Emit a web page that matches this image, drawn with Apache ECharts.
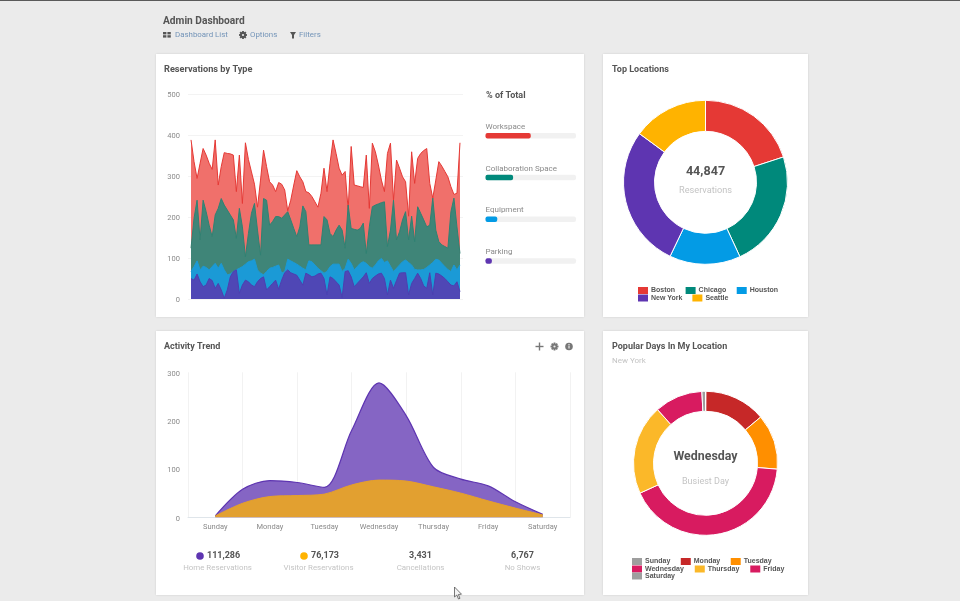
<!DOCTYPE html>
<html>
<head>
<meta charset="utf-8">
<title>Admin Dashboard</title>
<style>
  html, body { margin: 0; padding: 0; background: #ebebeb; }
  #main { width: 960px; height: 601px; }
</style>
<script src="https://cdn.jsdelivr.net/npm/echarts@6/dist/echarts.min.js"></script>
</head>
<body>
<div id="main"></div>
<script>
// Reservations by Type: daily level of each reservation type
const workspace = [388,335,294,331,367,351,331,316,388,278,323,357,355,354,351,262,351,233,381,340,310,280,224,290,363,323,286,278,262,284,280,266,215,241,278,313,298,286,262,259,250,237,224,258,319,262,331,388,355,319,302,311,217,372,278,276,274,272,351,221,380,359,327,290,262,355,380,241,339,319,298,286,202,359,282,343,355,362,367,282,246,290,335,324,311,298,274,255,258,381];
const collaboration = [124,197,241,144,241,213,180,152,205,221,245,229,217,205,193,148,221,176,103,160,209,233,168,107,245,241,180,189,201,201,197,205,213,193,172,152,176,227,213,132,132,132,132,132,201,193,160,152,168,180,168,124,229,172,170,168,172,185,111,176,225,229,232,235,237,128,168,241,144,164,193,213,144,202,140,225,209,193,176,180,246,168,140,132,128,124,213,246,176,111];
const equipment = [67,79,93,71,80,77,71,79,87,75,87,71,59,61,67,71,75,79,85,91,93,97,71,63,59,67,75,77,80,83,63,67,97,93,89,85,80,75,71,93,91,83,75,69,63,67,79,85,85,85,67,75,97,87,71,79,87,91,87,79,75,83,93,99,89,93,80,67,75,83,91,95,89,83,72,71,71,72,77,83,89,97,95,87,79,72,67,83,71,83];
const parking = [50,46,61,42,30,34,50,45,26,38,22,2,22,54,67,71,14,34,46,42,34,30,42,50,54,22,30,38,46,24,46,64,71,64,61,58,46,34,63,59,54,56,61,63,50,10,54,50,42,34,4,67,69,54,30,38,46,54,64,38,50,56,61,63,50,10,46,26,45,63,64,64,10,38,50,63,50,32,26,64,10,63,61,56,50,42,34,32,42,18];

// Share of total shown as progress bars
const shareNames = ['Workspace', 'Collaboration Space', 'Equipment', 'Parking'];
const shareValues = [50, 30.5, 13, 7];

// Top Locations
const locationNames = ['Boston', 'Chicago', 'Houston', 'New York', 'Seattle'];
const locationValues = [8970, 10360, 6280, 12557, 6680];

// Activity Trend, sampled twice a day from Sunday to Saturday
const weekDays = ['Sunday', 'Monday', 'Tuesday', 'Wednesday', 'Thursday', 'Friday', 'Saturday'];
const trendSteps = [0, 0.5, 1, 1.5, 2, 2.5, 3, 3.5, 4, 4.5, 5, 5.5, 6];
const homeReservations = [3, 58, 76, 72, 62, 180, 278, 210, 103, 79, 65, 32, 6];
const visitorReservations = [3, 29, 43, 45, 48, 67, 77, 75, 63, 50, 34, 19, 5];

// Popular Days In My Location
const dayShares = [1, 138, 124, 419, 202, 108, 8];

const RED = '#e53935', GREEN = '#00897b', BLUE = '#039be5', PURPLE = '#5e35b1', AMBER = '#ffb300';
const UI = 'Roboto, "Liberation Sans", sans-serif';
const DARK = '#555555', FAINT = '#c4c4c4', AXIS = '#8a8a8a', LINK = '#7394b8';

const indexed = arr => arr.map((v, i) => [i, v]);
const bySteps = arr => arr.map((v, i) => [trendSteps[i], v]);

function text(x, y, str, size, fill, weight, align) {
  return { type: 'text', x, y: y + 1, silent: true, style: {
    text: str, fontSize: size, fill, fontWeight: weight || 'normal',
    fontFamily: UI, align: align || 'left', verticalAlign: 'middle'
  } };
}
function card(x, y, w, h) {
  return { type: 'rect', shape: { x, y, width: w, height: h }, z: -10, silent: true,
    style: { fill: '#ffffff', shadowBlur: 2, shadowColor: 'rgba(0,0,0,0.12)' } };
}
function gear(cx, cy, color) {
  const teeth = [];
  for (let a = 0; a < 4; a++) {
    teeth.push({ type: 'rect', x: cx, y: cy, rotation: a * Math.PI / 4, silent: true,
      shape: { x: -0.9, y: -4, width: 1.8, height: 8 }, style: { fill: color } });
  }
  return teeth.concat([
    { type: 'circle', shape: { cx, cy, r: 2.2 }, silent: true, style: { fill: 'none', stroke: color, lineWidth: 1.6 } },
    { type: 'circle', shape: { cx, cy, r: 1.1 }, silent: true, style: { fill: '#ebebeb' } }
  ]);
}

const overlay = [
  // top edge of the window
  { type: 'rect', shape: { x: 0, y: 0, width: 960, height: 1 }, silent: true, style: { fill: '#5a5a5a' } },
  card(156, 54, 428, 263), card(603, 54, 205, 263), card(156, 331, 428, 264), card(603, 331, 205, 264),

  // page header
  text(163, 20.5, 'Admin Dashboard', 10.2, DARK, 'bold'),
  { type: 'rect', shape: { x: 163, y: 32, width: 3.4, height: 2.4 }, silent: true, style: { fill: DARK } },
  { type: 'rect', shape: { x: 167.4, y: 32, width: 3.4, height: 2.4 }, silent: true, style: { fill: DARK } },
  { type: 'rect', shape: { x: 163, y: 35.2, width: 3.4, height: 2.4 }, silent: true, style: { fill: DARK } },
  { type: 'rect', shape: { x: 167.4, y: 35.2, width: 3.4, height: 2.4 }, silent: true, style: { fill: DARK } },
  text(175, 34.5, 'Dashboard List', 7.9, LINK),
  ...gear(243, 35, DARK),
  text(250, 34.5, 'Options', 7.9, LINK),
  { type: 'polygon', shape: { points: [[290, 32], [296, 32], [294, 35], [294, 38.5], [292, 38.5], [292, 35]] }, silent: true, style: { fill: DARK } },
  text(299, 34.5, 'Filters', 7.9, LINK),

  // card titles
  text(164, 68.5, 'Reservations by Type', 9.2, DARK, 'bold'),
  text(486, 95, '% of Total', 9, DARK, 'bold'),
  text(612, 68.5, 'Top Locations', 9, DARK, 'bold'),
  text(164, 346, 'Activity Trend', 9, DARK, 'bold'),
  text(612, 346, 'Popular Days In My Location', 9, DARK, 'bold'),
  text(612, 359.5, 'New York', 8, FAINT),

  // donut centres
  text(705.5, 171, '44,847', 12.6, DARK, 'bold', 'center'),
  text(705.5, 190, 'Reservations', 9.2, FAINT, 'normal', 'center'),
  text(705.5, 455.5, 'Wednesday', 12.4, DARK, 'bold', 'center'),
  text(705.5, 481, 'Busiest Day', 9, FAINT, 'normal', 'center'),

  // Activity Trend toolbar
  { type: 'rect', shape: { x: 535.5, y: 345.8, width: 8, height: 1.4 }, silent: true, style: { fill: '#777' } },
  { type: 'rect', shape: { x: 538.8, y: 342.5, width: 1.4, height: 8 }, silent: true, style: { fill: '#777' } },
  ...gear(554.5, 346.5, '#777'),
  { type: 'circle', shape: { cx: 569, cy: 346.5, r: 3.8 }, silent: true, style: { fill: '#777' } },
  { type: 'rect', shape: { x: 568.5, y: 345.5, width: 1, height: 3 }, silent: true, style: { fill: '#fff' } },
  { type: 'rect', shape: { x: 568.5, y: 344, width: 1, height: 1 }, silent: true, style: { fill: '#fff' } },

  // Activity Trend totals
  { type: 'circle', shape: { cx: 200, cy: 556, r: 3.8 }, silent: true, style: { fill: PURPLE } },
  text(207, 555, '111,286', 9, DARK, 'bold'),
  text(217.5, 567, 'Home Reservations', 7.9, FAINT, 'normal', 'center'),
  { type: 'circle', shape: { cx: 304, cy: 556, r: 3.8 }, silent: true, style: { fill: AMBER } },
  text(311, 555, '76,173', 9, DARK, 'bold'),
  text(318.5, 567, 'Visitor Reservations', 7.9, FAINT, 'normal', 'center'),
  text(420.5, 555, '3,431', 9, DARK, 'bold', 'center'),
  text(420.5, 567, 'Cancellations', 7.9, FAINT, 'normal', 'center'),
  text(522.5, 555, '6,767', 9, DARK, 'bold', 'center'),
  text(522.5, 567, 'No Shows', 7.9, FAINT, 'normal', 'center'),

  // pointer resting over the lower card edge
  { type: 'polygon', z: 100, silent: true,
    shape: { points: [[454.5, 587], [454.5, 597], [456.8, 595], [458.5, 599], [460, 598.3], [458.3, 594.5], [461.5, 594.2]] },
    style: { fill: '#f4f4f4', stroke: '#555', lineWidth: 0.8 } }
];

function areaSeries(name, values, lineColor, fillColor, z) {
  return { name, type: 'line', xAxisIndex: 0, yAxisIndex: 0, data: indexed(values), z,
    symbol: 'none', lineStyle: { color: lineColor, width: 1 }, areaStyle: { color: fillColor, opacity: 1 }, silent: true };
}

function legendRow(data, left, centerY, gap) {
  return { data, left, top: centerY - 3.5, itemGap: gap, itemWidth: 10, itemHeight: 7, icon: 'rect',
    selectedMode: false, padding: 0, itemStyle: { borderWidth: 0 },
    textStyle: { fontFamily: '"Liberation Sans", sans-serif', fontSize: 7, fontWeight: 'bold', color: '#555', padding: [0, 0, 0, -2] } };
}

const axisText = { color: AXIS, fontSize: 7.5, fontFamily: UI, margin: 8, verticalAlign: 'top', lineHeight: 3 };

const option = {
  animation: false,
  backgroundColor: '#ebebeb',
  graphic: { elements: overlay },
  color: [RED, GREEN, BLUE, PURPLE, AMBER],
  grid: [
    { left: 188, width: 275, top: 94, height: 205 },
    { left: 485.5, width: 90.5, top: 114.8, height: 167 },
    { left: 188, width: 382, top: 372.3, height: 145 }
  ],
  xAxis: [
    { gridIndex: 0, type: 'value', min: -1, max: 90, show: false },
    { gridIndex: 1, type: 'value', min: 0, max: 100, show: false },
    { gridIndex: 2, type: 'category', data: weekDays, boundaryGap: true,
      axisTick: { show: false }, axisLine: { lineStyle: { color: '#dfe5ea' } },
      axisLabel: { color: AXIS, fontSize: 7.5, fontFamily: UI, margin: 6, interval: 0 },
      splitLine: { show: true, lineStyle: { color: '#f2f2f2' } } },
    // numeric companion of the weekday axis, same pixel span, carries the curves
    { gridIndex: 2, type: 'value', min: -0.5, max: 6.5, show: false }
  ],
  yAxis: [
    { gridIndex: 0, type: 'value', min: 0, max: 500, interval: 100,
      axisLine: { show: false }, axisTick: { show: false }, axisLabel: axisText,
      splitLine: { lineStyle: { color: '#f3f3f3' } } },
    { gridIndex: 1, type: 'category', data: shareNames, inverse: true, show: false },
    { gridIndex: 2, type: 'value', min: 0, max: 300, interval: 100,
      axisLine: { show: false }, axisTick: { show: false }, axisLabel: axisText,
      splitLine: { show: false } }
  ],
  legend: [
    legendRow(['Boston', 'Chicago', 'Houston'], 638, 290.5, 10.5),
    legendRow(['New York', 'Seattle'], 638, 298, 10),
    legendRow(['Sunday', 'Monday', 'Tuesday'], 632, 561.5, 10.5),
    legendRow(['Wednesday', 'Thursday', 'Friday'], 632, 569, 11),
    legendRow(['Saturday'], 632, 576, 11)
  ],
  series: [
    areaSeries('Workspace', workspace, RED, '#f0706b', 2),
    areaSeries('Collaboration Space', collaboration, '#2f8273', '#3f8578', 3),
    areaSeries('Equipment', equipment, '#1b9ad6', '#1b9ad6', 4),
    areaSeries('Parking', parking, '#4d3fb0', '#4f47b5', 5),
    { type: 'bar', xAxisIndex: 1, yAxisIndex: 1, barWidth: 5.5, silent: true,
      showBackground: true, backgroundStyle: { color: '#f1f1f1', borderRadius: 2 },
      data: shareValues.map((v, i) => ({ value: v, itemStyle: { color: [RED, GREEN, BLUE, PURPLE][i], borderRadius: 2 } })),
      label: { show: true, position: [0, -10], formatter: '{b}', color: AXIS, fontSize: 8, fontFamily: UI } },
    { name: 'Home Reservations', type: 'line', xAxisIndex: 3, yAxisIndex: 2, data: bySteps(homeReservations), smooth: 0.3, z: 2,
      symbol: 'none', silent: true, lineStyle: { color: PURPLE, width: 1.2 }, areaStyle: { color: '#8565c4', opacity: 1 } },
    { name: 'Visitor Reservations', type: 'line', xAxisIndex: 3, yAxisIndex: 2, data: bySteps(visitorReservations), smooth: 0.3, z: 3,
      symbol: 'none', silent: true, lineStyle: { color: '#e5a02c', width: 1 }, areaStyle: { color: '#e2a030', opacity: 1 } },
    { type: 'pie', center: [705.5, 182.3], radius: [51, 82], startAngle: 90, silent: true,
      label: { show: false }, labelLine: { show: false },
      itemStyle: { borderColor: '#ffffff', borderWidth: 1 },
      data: locationNames.map((name, i) => ({ name, value: locationValues[i], itemStyle: { color: [RED, GREEN, BLUE, PURPLE, AMBER][i] } })) },
    { type: 'pie', center: [705.5, 463.3], radius: [52, 72], startAngle: 90, silent: true,
      label: { show: false }, labelLine: { show: false },
      itemStyle: { borderColor: '#ffffff', borderWidth: 1 },
      data: weekDays.map((name, i) => ({ name, value: dayShares[i],
        itemStyle: { color: ['#9e9e9e', '#c62828', '#ff8f00', '#d81b60', '#fbb829', '#d81b60', '#9e9e9e'][i] } })) }
  ]
};

echarts.init(document.getElementById('main')).setOption(option);
</script>
</body>
</html>
